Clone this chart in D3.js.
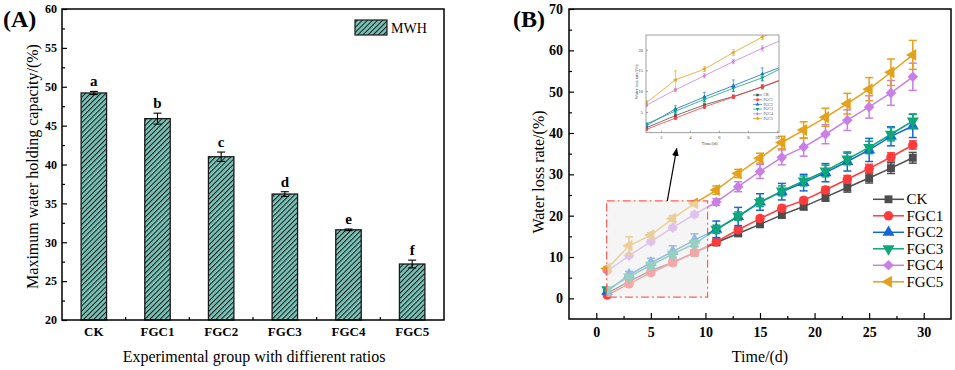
<!DOCTYPE html>
<html>
<head>
<meta charset="utf-8">
<script src="https://cdn.jsdelivr.net/npm/d3@7"></script>
<style>
  body { margin: 0; background: #fff; }
  text { font-family: "Liberation Serif", "Times New Roman", serif; }
</style>
</head>
<body>
<div id="container"></div>
<script>
// ---- panel A data ----
const groups = ["CK", "FGC1", "FGC2", "FGC3", "FGC4", "FGC5"];
const mwh = [49.2, 45.9, 41.0, 36.2, 31.6, 27.2];
const mwhErr = [0.2, 0.7, 0.6, 0.3, 0.1, 0.5];
const sigLetters = ["a", "b", "c", "d", "e", "f"];
const yTicksA = [20, 25, 30, 35, 40, 45, 50, 55, 60];

// ---- panel B data ----
const days = [1, 3, 5, 7, 9, 11, 13, 15, 17, 19, 21, 23, 25, 27, 29];
const ck   = [1.2, 4.1, 6.7, 8.7, 11.0, 13.5, 15.7, 17.9, 20.2, 22.2, 24.5, 26.8, 29.1, 31.5, 34.0];
const fgc1 = [0.8, 3.5, 6.2, 8.6, 11.1, 13.7, 16.6, 19.3, 21.8, 23.7, 26.2, 28.8, 31.4, 34.2, 37.1];
const fgc2 = [1.7, 5.7, 8.6, 11.3, 14.1, 16.7, 19.8, 23.3, 25.8, 28.0, 30.4, 33.1, 35.9, 39.2, 41.7];
const fgc3 = [2.1, 5.2, 8.0, 10.7, 13.2, 16.7, 19.9, 23.2, 26.0, 28.4, 30.8, 33.7, 36.5, 39.7, 42.9];
const fgc4 = [6.6, 10.3, 13.7, 17.1, 20.3, 23.3, 27.0, 30.7, 34.1, 36.6, 39.7, 43.1, 46.3, 49.7, 53.6];
const fgc5 = [7.2, 12.7, 15.3, 19.3, 23.0, 26.2, 30.2, 33.9, 37.7, 40.7, 43.8, 47.1, 50.6, 54.7, 58.9];
const ckErr   = [0.3, 0.4, 0.4, 0.4, 0.5, 0.5, 0.6, 0.7, 0.8, 0.8, 1.0, 1.1, 1.2, 1.3, 1.3];
const fgc1Err = [0.3, 0.3, 0.4, 0.4, 0.4, 0.5, 0.6, 0.6, 0.7, 0.7, 0.8, 0.9, 1.0, 1.0, 1.0];
const fgc2Err = [0.4, 0.8, 1.1, 1.4, 1.5, 2.0, 2.2, 2.0, 2.0, 2.0, 2.2, 2.3, 2.8, 2.3, 2.8];
const fgc3Err = [0.3, 0.5, 0.6, 0.7, 0.8, 1.0, 1.0, 1.0, 1.2, 1.2, 1.4, 1.4, 1.5, 1.6, 1.7];
const fgc4Err = [0.3, 0.4, 0.5, 0.5, 0.6, 0.8, 1.2, 1.7, 1.8, 2.2, 2.3, 2.5, 2.7, 3.0, 3.3];
const fgc5Err = [0.5, 2.2, 0.6, 0.7, 0.6, 1.0, 1.0, 1.2, 1.5, 2.0, 2.2, 2.5, 2.8, 3.2, 3.5];
const seriesNames = ["CK", "FGC1", "FGC2", "FGC3", "FGC4", "FGC5"];
const seriesColors = ["#4d4d4d", "#ff3b3b", "#1468d2", "#0ea67a", "#c97fe6", "#e3a11c"];
const xTicksB = [0, 5, 10, 15, 20, 25, 30];
const yTicksB = [0, 10, 20, 30, 40, 50, 60, 70];
const insetXTicks = [2, 4, 6, 8, 10];
const insetYTicks = [5, 10, 15, 20];

const width = 955, height = 370;
const svg = d3.select("#container").append("svg")
    .attr("width", width)
    .attr("height", height);

const defs = svg.append("defs");
const hatch = defs.append("pattern")
    .attr("id", "hatch")
    .attr("patternUnits", "userSpaceOnUse")
    .attr("width", 3.6)
    .attr("height", 3.6)
    .attr("patternTransform", "rotate(45)");
hatch.append("rect").attr("width", 3.6).attr("height", 3.6).attr("fill", "#79c5ba");
hatch.append("line").attr("x1", 0.5).attr("y1", 0).attr("x2", 0.5).attr("y2", 3.6)
    .attr("stroke", "#1a1a1a").attr("stroke-width", 1.1);

function styleAxis(g) {
    g.select(".domain").remove();
    g.selectAll(".tick line").attr("stroke", "#000").attr("stroke-width", 1.2);
    g.selectAll(".tick text").attr("fill", "#000")
        .style("font-family", "Liberation Serif").style("font-weight", "bold");
}

// ================= PANEL A =================
const A = { left: 62, right: 444, top: 9, bottom: 320 };
const xA = d3.scaleBand().domain(groups).range([A.left, A.right]).paddingInner(0.6).paddingOuter(0.3);
const yA = d3.scaleLinear().domain([20, 60]).range([A.bottom, A.top]);
const gA = svg.append("g");

gA.append("g").attr("transform", `translate(${A.left},0)`)
    .call(d3.axisLeft(yA).tickValues(yTicksA).tickSize(-5).tickPadding(5))
    .call(styleAxis)
    .call(g => g.selectAll("text").style("font-size", "12px"));
gA.append("g").attr("transform", `translate(${A.left},0)`)
    .call(d3.axisLeft(yA).tickValues(d3.range(22.5, 60, 5)).tickSize(-3).tickFormat(""))
    .call(styleAxis);
gA.append("g").attr("transform", `translate(0,${A.bottom})`)
    .call(d3.axisBottom(xA).tickSize(-5).tickPadding(7))
    .call(styleAxis)
    .call(g => g.selectAll("text").style("font-size", "13px"));
// minor ticks between groups
gA.append("g").selectAll("line")
    .data(groups.slice(1))
    .join("line")
    .attr("x1", d => xA(d) - xA.step() * xA.paddingInner() / 2)
    .attr("x2", d => xA(d) - xA.step() * xA.paddingInner() / 2)
    .attr("y1", A.bottom).attr("y2", A.bottom - 3)
    .attr("stroke", "#000").attr("stroke-width", 1.2);

gA.append("g").selectAll("rect")
    .data(groups)
    .join("rect")
    .attr("x", d => xA(d))
    .attr("y", (d, i) => yA(mwh[i]))
    .attr("width", xA.bandwidth())
    .attr("height", (d, i) => yA(20) - yA(mwh[i]))
    .attr("fill", "url(#hatch)")
    .attr("stroke", "#1a1a1a")
    .attr("stroke-width", 1.3);

const errA = gA.append("g").attr("stroke", "#000").attr("stroke-width", 1.1);
groups.forEach((gname, i) => {
    const cx = xA(gname) + xA.bandwidth() / 2;
    const y1 = yA(mwh[i] + mwhErr[i]), y2 = yA(mwh[i] - mwhErr[i]);
    errA.append("line").attr("x1", cx).attr("x2", cx).attr("y1", y1).attr("y2", y2);
    errA.append("line").attr("x1", cx - 4).attr("x2", cx + 4).attr("y1", y1).attr("y2", y1);
    errA.append("line").attr("x1", cx - 4).attr("x2", cx + 4).attr("y1", y2).attr("y2", y2);
});

gA.append("g").selectAll("text")
    .data(groups)
    .join("text")
    .attr("x", d => xA(d) + xA.bandwidth() / 2)
    .attr("y", (d, i) => yA(mwh[i] + mwhErr[i]) - 5)
    .attr("text-anchor", "middle")
    .style("font-size", "15px").style("font-weight", "bold")
    .text((d, i) => sigLetters[i]);

gA.append("rect")
    .attr("x", A.left).attr("y", A.top)
    .attr("width", A.right - A.left).attr("height", A.bottom - A.top)
    .attr("fill", "none").attr("stroke", "#000").attr("stroke-width", 1.5);

// legend A
gA.append("rect").attr("x", 355).attr("y", 20).attr("width", 32).attr("height", 15)
    .attr("fill", "url(#hatch)").attr("stroke", "#1a1a1a").attr("stroke-width", 1.2);
gA.append("text").attr("x", 391).attr("y", 32.5).style("font-size", "14px").text("MWH");

gA.append("text")
    .attr("transform", `translate(32,${(A.top + A.bottom) / 2 + 2}) rotate(-90)`)
    .attr("text-anchor", "middle").attr("dy", "0.35em")
    .style("font-size", "16px")
    .text("Maximum water holding capacity/(%)");
gA.append("text")
    .attr("x", (A.left + A.right) / 2 + 1).attr("y", 362)
    .attr("text-anchor", "middle")
    .style("font-size", "16px")
    .text("Experimental group with diffierent ratios");
gA.append("text").attr("x", 3).attr("y", 27)
    .style("font-size", "24px").style("font-weight", "bold").text("(A)");

// ================= PANEL B =================
const B = { left: 569, right: 951, top: 9, bottom: 319 };
const xB = d3.scaleLinear().domain([-2.5, 32.5]).range([B.left, B.right]);
const yB = d3.scaleLinear().domain([-5, 70]).range([B.bottom, B.top]);
const gB = svg.append("g");

gB.append("g").attr("transform", `translate(${B.left},0)`)
    .call(d3.axisLeft(yB).tickValues(yTicksB).tickSize(-5).tickPadding(6))
    .call(styleAxis)
    .call(g => g.selectAll("text").style("font-size", "14px"));
gB.append("g").attr("transform", `translate(${B.left},0)`)
    .call(d3.axisLeft(yB).tickValues(d3.range(5, 70, 10)).tickSize(-3).tickFormat(""))
    .call(styleAxis);
gB.append("g").attr("transform", `translate(0,${B.bottom})`)
    .call(d3.axisBottom(xB).tickValues(xTicksB).tickSize(-6).tickPadding(8))
    .call(styleAxis)
    .call(g => g.selectAll("text").style("font-size", "14px"));
gB.append("g").attr("transform", `translate(0,${B.bottom})`)
    .call(d3.axisBottom(xB).tickValues(d3.range(2.5, 30, 5)).tickSize(-3).tickFormat(""))
    .call(styleAxis);

const seriesVals = [ck, fgc1, fgc2, fgc3, fgc4, fgc5];
const seriesErrs = [ckErr, fgc1Err, fgc2Err, fgc3Err, fgc4Err, fgc5Err];
const symbols = [
    { type: d3.symbolSquare, rot: 0, size: 62 },
    { type: d3.symbolCircle, rot: 0, size: 70 },
    { type: d3.symbolTriangle, rot: 0, size: 62 },
    { type: d3.symbolTriangle, rot: 180, size: 62 },
    { type: d3.symbolSquare, rot: 45, size: 56 },
    { type: d3.symbolTriangle, rot: -90, size: 62 }
];

function drawSeries(g, xs, ys, scale, opts) {
    seriesNames.forEach((name, s) => {
        const pts = days.map((d, i) => ({ x: d, y: seriesVals[s][i], e: seriesErrs[s][i] }));
        const col = seriesColors[s];
        const sg = g.append("g");
        sg.append("path")
            .datum(pts)
            .attr("fill", "none").attr("stroke", col).attr("stroke-width", opts.lw)
            .attr("d", d3.line().x(p => xs(p.x)).y(p => ys(p.y)));
        const eb = sg.append("g").attr("stroke", col).attr("stroke-width", opts.ew);
        pts.forEach(p => {
            const cx = xs(p.x), y1 = ys(p.y + p.e), y2 = ys(p.y - p.e);
            eb.append("line").attr("x1", cx).attr("x2", cx).attr("y1", y1).attr("y2", y2);
            eb.append("line").attr("x1", cx - opts.cap).attr("x2", cx + opts.cap).attr("y1", y1).attr("y2", y1);
            eb.append("line").attr("x1", cx - opts.cap).attr("x2", cx + opts.cap).attr("y1", y2).attr("y2", y2);
        });
        sg.selectAll("path.m")
            .data(pts)
            .join("path")
            .attr("class", "m")
            .attr("transform", p => `translate(${xs(p.x)},${ys(p.y)}) rotate(${symbols[s].rot})`)
            .attr("d", d3.symbol().type(symbols[s].type).size(symbols[s].size * scale))
            .attr("fill", col);
    });
}

drawSeries(gB.append("g"), xB, yB, 1, { lw: 1.5, ew: 1.5, cap: 4 });

// zoom box over the first days
gB.append("rect")
    .attr("x", xB(0.95)).attr("y", yB(23.6))
    .attr("width", xB(10.2) - xB(0.95)).attr("height", yB(0.3) - yB(23.6))
    .attr("fill", "#eeeeee").attr("fill-opacity", 0.6)
    .attr("stroke", "#ff5c5c").attr("stroke-width", 1.2)
    .attr("stroke-dasharray", "8,3,2,3");

// arrow to inset
defs.append("marker")
    .attr("id", "arrow").attr("viewBox", "0 0 10 10")
    .attr("refX", 9).attr("refY", 5)
    .attr("markerWidth", 7).attr("markerHeight", 7)
    .attr("orient", "auto")
    .append("path").attr("d", "M0,1L10,5L0,9Z").attr("fill", "#000");
gB.append("line")
    .attr("x1", 667.3).attr("y1", yB(23.6))
    .attr("x2", 676.7).attr("y2", 148.5)
    .attr("stroke", "#000").attr("stroke-width", 1.2)
    .attr("marker-end", "url(#arrow)");

// inset
const I = { left: 646, right: 779, top: 35, bottom: 132.7 };
const xI = d3.scaleLinear().domain([0.97, 10.15]).range([I.left, I.right]);
const yI = d3.scaleLinear().domain([0, 23.5]).range([I.bottom, I.top]);
const gI = gB.append("g");
gI.append("rect").attr("x", I.left).attr("y", I.top)
    .attr("width", I.right - I.left).attr("height", I.bottom - I.top).attr("fill", "#fff");
defs.append("clipPath").attr("id", "insetClip")
    .append("rect").attr("x", I.left).attr("y", I.top)
    .attr("width", I.right - I.left).attr("height", I.bottom - I.top);
drawSeries(gI.append("g").attr("clip-path", "url(#insetClip)"), xI, yI, 0.12, { lw: 0.8, ew: 0.6, cap: 1.5 });

function styleInset(g) {
    g.select(".domain").remove();
    g.selectAll(".tick line").attr("stroke", "#666").attr("stroke-width", 0.6);
    g.selectAll(".tick text").attr("fill", "#444").style("font-size", "4.5px")
        .style("font-family", "Liberation Serif");
}
gI.append("g").attr("transform", `translate(${I.left},0)`)
    .call(d3.axisLeft(yI).tickValues(insetYTicks).tickSize(-2).tickPadding(3)).call(styleInset);
gI.append("g").attr("transform", `translate(0,${I.bottom})`)
    .call(d3.axisBottom(xI).tickValues(insetXTicks).tickSize(-2).tickPadding(3)).call(styleInset);
gI.append("rect").attr("x", I.left).attr("y", I.top)
    .attr("width", I.right - I.left).attr("height", I.bottom - I.top)
    .attr("fill", "none").attr("stroke", "#888").attr("stroke-width", 0.8);
gI.append("text")
    .attr("transform", `translate(638,${(I.top + I.bottom) / 2 - 2}) rotate(-90)`)
    .attr("text-anchor", "middle").style("font-size", "4.5px").attr("fill", "#444")
    .text("Water loss rate/(%)");
gI.append("text").attr("x", (I.left + I.right) / 2 - 3).attr("y", 145)
    .attr("text-anchor", "middle").style("font-size", "4.5px").attr("fill", "#444")
    .text("Time/(d)");
const legI = gI.append("g");
seriesNames.forEach((name, s) => {
    const y = 95 + s * 4.7;
    legI.append("line").attr("x1", 753).attr("x2", 762).attr("y1", y).attr("y2", y)
        .attr("stroke", seriesColors[s]).attr("stroke-width", 0.7);
    legI.append("path")
        .attr("transform", `translate(757.5,${y}) rotate(${symbols[s].rot})`)
        .attr("d", d3.symbol().type(symbols[s].type).size(symbols[s].size * 0.1))
        .attr("fill", seriesColors[s]);
    legI.append("text").attr("x", 763.5).attr("y", y + 1.3)
        .style("font-size", "3.8px").attr("fill", "#444").text(name);
});

// frame B
gB.append("rect")
    .attr("x", B.left).attr("y", B.top)
    .attr("width", B.right - B.left).attr("height", B.bottom - B.top)
    .attr("fill", "none").attr("stroke", "#000").attr("stroke-width", 1.5);

// legend B
const legB = gB.append("g");
seriesNames.forEach((name, s) => {
    const y = 199.3 + s * 16.5;
    legB.append("line").attr("x1", 873).attr("x2", 904).attr("y1", y).attr("y2", y)
        .attr("stroke", seriesColors[s]).attr("stroke-width", 1.5);
    legB.append("path")
        .attr("transform", `translate(888.5,${y}) rotate(${symbols[s].rot})`)
        .attr("d", d3.symbol().type(symbols[s].type).size(symbols[s].size))
        .attr("fill", seriesColors[s]);
    legB.append("text").attr("x", 906.5).attr("y", y + 5)
        .style("font-size", "15px").text(name);
});

gB.append("text")
    .attr("transform", `translate(538,${(B.top + B.bottom) / 2 + 8}) rotate(-90)`)
    .attr("text-anchor", "middle").attr("dy", "0.35em")
    .style("font-size", "16px")
    .text("Water loss rate/(%)");
gB.append("text")
    .attr("x", 760).attr("y", 362)
    .attr("text-anchor", "middle")
    .style("font-size", "16px")
    .text("Time/(d)");
gB.append("text").attr("x", 513).attr("y", 27)
    .style("font-size", "24px").style("font-weight", "bold").text("(B)");
</script>
</body>
</html>
